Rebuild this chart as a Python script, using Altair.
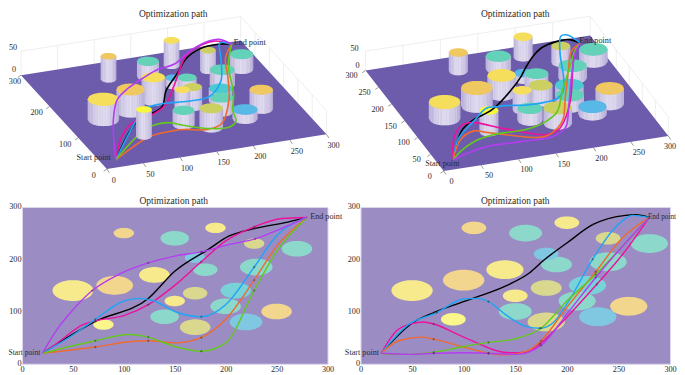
import numpy as np
import pandas as pd
import altair as alt

FONT = "Liberation Serif"
TXT = "#2b2b2b"

# obstacles: centre x, centre y, radius, height, colour kind
kinds = ["yellow","orange","yellow","orange","teal","yellow","olive","teal","teal","teal",
         "blue","olive","yellow","aqua","teal","lemon","olive","teal","blue","orange"]
heights = [42,46,49,48,32,53,43,31,31,30,17,42,51,26,30,56,40,29,19,40]
L_cx = [50,91,130,100,150,190,228,270,230,180,170,170,150,210,140,80,170,200,220,250]
L_cy = [140,150,170,250,240,260,230,220,185,180,203,135,120,140,90,75,70,110,80,100]
L_r  = [20,18,15,10,14,10,10,15,16,12,10,12,10,15,14,10,15,15,16,15]
R_cx = [50,100,140,110,160,200,240,280,240,190,180,180,150,220,150,90,180,210,230,260]
R_cy = [140,160,180,260,250,270,240,230,195,190,210,145,130,150,100,85,80,120,90,110]
R_r  = [20,20,18,12,16,12,12,18,18,15,12,15,12,18,16,12,18,18,18,18]
flat_col = {"yellow":"#f6ea8c","orange":"#f2d68e","teal":"#8cd8ca","olive":"#d9d88e",
            "blue":"#80c8e2","aqua":"#78d2d8","lemon":"#fbf68c"}
top_col  = {"yellow":"#f5de5c","orange":"#f0c862","teal":"#64d2b8","olive":"#ccd062",
            "blue":"#58b8e6","aqua":"#4ccad2","lemon":"#f8f83c"}

path_col = {"black":"#000000","magenta":"#ee119c","blue":"#1ea5f5",
            "orange":"#ee6a30","green":"#62c81e","purple":"#b43df0"}

# plan-view paths, left panel
L_paths = {
 "black":  ([20,72,124,150,183,203,229,261,280],[20,81,125,177,219,244,259,271,280]),
 "magenta":([20,35,60,72,100,124,150,176,200,228,255,280],[20,40,75,82,92,113,150,195,235,262,278,280]),
 "blue":   ([20,50,72,100,115,130,150,176,200,228,250,280],[20,55,85,120,125,120,100,90,113,185,245,280]),
 "orange": ([20,72,110,124,150,176,200,228,250,280],[20,32,43,44,40,50,85,160,225,280]),
 "green":  ([20,72,105,124,150,176,200,228,250,280],[20,44,56,51,33,24,40,140,215,280]),
 "purple": ([20,36,49,69,95,124,150,176,203,229,255,280],[20,70,101,140,171,193,206,214,228,239,259,280]),
}
# plan-view paths, right panel
R_paths = {
 "black":  ([20,51,71,109,142,164,177,200,225,257,267,280],[20,79,98,125,150,174,197,231,266,284,285,280]),
 "magenta":([20,35,50,61,71,100,145,161,174,200,229,254,280],[20,63,77,80,76,51,21,22,38,89,152,209,280]),
 "blue":   ([20,45,74,100,113,124,142,161,174,187,200,225,248,264,280],[20,73,98,124,125,119,92,71,68,79,114,200,263,284,280]),
 "orange": ([20,37,58,71,100,124,142,161,175,200,228,254,280],[20,44,51,47,32,20,17,24,44,108,176,241,280]),
 "green":  ([20,29,48,71,100,124,148,175,200,228,254,280],[20,18,18,22,33,41,47,68,120,171,225,280]),
 "purple": ([20,48,71,100,124,151,175,200,228,254,280],[20,18,20,21,20,18,35,95,165,225,280]),
}
# 3-D paths, left panel: x, y, z
L3 = {
 "black":  (L_paths["black"][0], L_paths["black"][1], [1,28,18,12,15,21,27,21,10]),
 "magenta":(L_paths["magenta"][0], L_paths["magenta"][1], [1,30,28,30,31,30,38,39,35,30,24,10]),
 "blue":   ([20,50,72,100,115,130,150,176,200,228,250,280],[20,55,85,120,125,120,100,90,113,185,245,280],[1,21,25,24,24,28,40,51,62,56,43,10]),
 "orange": ([20,72,110,124,150,176,200,228,250,280],[20,32,43,44,40,50,85,160,225,280],[1,30,26,24,20,19,40,31,25,10]),
 "green":  ([20,72,105,124,150,176,190,205,228,250,280],[20,44,56,51,33,24,35,85,140,215,280],[1,39,35,28,27,29,31,19,9,17,10]),
 "purple": (L_paths["purple"][0], L_paths["purple"][1], [1,28,36,37,33,33,37,37,49,54,40,10]),
}
# 3-D paths, right panel: x, y, z
R3 = {
 "black":  (R_paths["black"][0], R_paths["black"][1], [5,15,18,15,29,36,32,30,18,12,10,3]),
 "magenta":([20,35,50,61,71,100,145,161,174,200,229,254,280],[20,63,77,80,76,51,21,22,38,89,162,225,280],[5,13,28,30,30,28,26,32,35,35,50,39,3]),
 "blue":   (R_paths["blue"][0], R_paths["blue"][1], [5,5,17,20,19,23,39,55,60,65,65,52,37,21,3]),
 "orange": (R_paths["orange"][0], R_paths["orange"][1], [5,24,34,31,28,26,26,35,36,30,33,19,3]),
 "green":  (R_paths["green"][0], R_paths["green"][1], [5,22,38,42,34,28,30,33,33,42,34,3]),
 "purple": (R_paths["purple"][0], R_paths["purple"][1], [5,19,22,20,20,22,24,20,24,27,3]),
}
waypoints = [72,124,176,228]
xticks = [0,50,100,150,200,250,300]
L_yticks3 = [0,100,200,300]
R_yticks3 = [0,50,100,150,200,250,300]

# view set-ups (px = image pixels): origin, x axis, y axis, z scale, path z scale
VL = dict(x0=106.0, y0=168.0, ax=0.7333, ay=-0.1157, bx=-0.2867, by=-0.3133, kz=0.48, pz=0.48)
VR = dict(x0=443.33, y0=170.0, ax=0.75, ay=-0.1167, bx=-0.261, by=-0.3357, kz=0.387, pz=0.48)

def proj(v, x, y, z=0.0, zk=None):
    k = v["kz"] if zk is None else zk
    return (v["x0"] + v["ax"]*x + v["bx"]*y, v["y0"] + v["ay"]*x + v["by"]*y - k*z)

def hexmix(a, b, t):
    ca = [int(a[i:i+2],16) for i in (1,3,5)]
    cb = [int(b[i:i+2],16) for i in (1,3,5)]
    return "#%02x%02x%02x" % tuple(int(round(p+(q-p)*t)) for p,q in zip(ca,cb))

def ellipse_bounds(cx, cy, r, proj2, n=28):
    t = np.linspace(0, 2*np.pi, 361)
    pts = np.array([proj2(cx+r*np.cos(a), cy+r*np.sin(a)) for a in t])
    xs, ys = pts[:,0], pts[:,1]
    xg = np.linspace(xs.min(), xs.max(), n)
    i0 = xs.argmin(); order = np.roll(np.arange(360), -i0)
    i1 = list(order).index(xs[:360].argmax())
    a1, a2 = order[:i1+1], order[i1:]
    def arc(idx):
        s = np.argsort(xs[idx])
        return np.interp(xg, xs[idx][s], ys[idx][s])
    y1, y2 = arc(a1), arc(np.append(a2, order[0]))
    return xg, np.minimum(y1,y2), np.maximum(y1,y2)

def polygon_rows(verts, key, color):
    v = np.array(verts)
    l, r = v[:,0].argmin(), v[:,0].argmax()
    xg = np.sort(v[:,0])
    n = len(v)
    i = l; a = [l]
    while i != r:
        i = (i+1) % n; a.append(i)
    i = l; b = [l]
    while i != r:
        i = (i-1) % n; b.append(i)
    ya = np.interp(xg, v[a,0], v[a,1]); yb = np.interp(xg, v[b,0], v[b,1])
    return [dict(x=float(px), y=float(p), y2=float(q), key=key, c=color) for px,p,q in zip(xg,ya,yb)]

shade_cycle = [0.0,0.55,0.15,0.8,0.3,0.0,0.65,0.2,0.9,0.1,0.45,0.7]

def cylinder_rows(v, i, cx, cy, r, h, kind):
    rows = []
    xg, up0, lo0 = ellipse_bounds(cx, cy, r, lambda a,b: proj(v,a,b,0))
    xt, upt, lot = ellipse_bounds(cx, cy, r, lambda a,b: proj(v,a,b,h))
    w = xg[-1]-xg[0]
    nstr = max(8, int(w/1.1))
    sx = np.linspace(xg[0], xg[-1], nstr+1)
    for s in range(nstr):
        a, b = sx[s], min(sx[s+1]+0.6, xg[-1])
        u = (0.5*(a+b)-xg[0])/w
        edge = abs(2*u-1)**2
        c = hexmix("#e9e5f4", "#9a8ec6", min(1.0, 0.16*shade_cycle[s % 12]+0.5*edge+0.08))
        for px in (a, b):
            rows.append(dict(x=float(px),
                             y=float(np.interp(px, xt, lot))-0.5,
                             y2=float(np.interp(px, xg, lo0)),
                             key=f"c{i:02d}b{s:03d}", c=c))
    for px,p,q in zip(xt, upt, lot):
        rows.append(dict(x=float(px), y=float(p), y2=float(q), key=f"c{i:02d}z", c=top_col[kind]))
    return rows

def axis_none(domain):
    return alt.Scale(domain=domain, nice=False, zero=False)

def text_layer(df, xs, ys, align, size=8.2):
    return alt.Chart(df).mark_text(font=FONT, fontSize=size, color=TXT, align=align, baseline="middle").encode(
        x=alt.X("x:Q", scale=xs, axis=None), y=alt.Y("y:Q", scale=ys, axis=None), text="t:N")

def panel3d(v, cx, cy, r, paths3, yticks, xdom, front, title_x, labels, zlab, xoff, yoff, force=False):
    xs = axis_none(xdom); ys = axis_none([180, 10])
    W = xdom[1]-xdom[0]
    layers = []
    rules = []
    def seg(a, b, col):
        p, q = proj(v,*a), proj(v,*b)
        rules.append(dict(x=p[0], y=p[1], x2=q[0], y2=q[1], c=col))
    G = "#e6e6e6"
    seg((0,300,0),(0,300,50),G); seg((300,300,0),(300,300,50),G)
    seg((300,0,0),(300,0,50),G)
    seg((0,300,50),(300,300,50),G); seg((300,300,50),(300,0,50),G)
    for t in [50,100,150,200,250]:
        seg((t,300,0),(t,300,50),G); seg((300,t,0),(300,t,50),G)
    rdf = pd.DataFrame(rules)
    layers.append(alt.Chart(rdf).mark_rule(strokeWidth=0.7).encode(
        x=alt.X("x:Q", scale=xs, axis=None), y=alt.Y("y:Q", scale=ys, axis=None),
        x2="x2:Q", y2="y2:Q", color=alt.Color("c:N", scale=None)))
    ticks = []
    for t in xticks:
        p = proj(v,t,0); ticks.append(dict(x=p[0], y=p[1], x2=p[0]+2.4, y2=p[1]+3.6))
    for t in yticks:
        p = proj(v,0,t); ticks.append(dict(x=p[0], y=p[1], x2=p[0]-3.2, y2=p[1]+2.2))
    tk = pd.DataFrame(ticks)
    layers.append(alt.Chart(tk).mark_rule(strokeWidth=0.6, color="#555555").encode(
        x=alt.X("x:Q", scale=xs, axis=None), y=alt.Y("y:Q", scale=ys, axis=None), x2="x2:Q", y2="y2:Q"))
    corners = [proj(v,0,300), proj(v,300,300), proj(v,300,0), proj(v,0,0)]
    rows = polygon_rows(corners, "a_plane", "#6d5cab")
    def depth(i):
        return proj(v, cx[i], cy[i])[1]
    idx = sorted(range(len(cx)), key=depth)
    for i in idx:
        if i not in front:
            rows += cylinder_rows(v, i, cx[i], cy[i], r[i], heights[i], kinds[i])
    def area_layer(rs):
        return alt.Chart(pd.DataFrame(rs)).mark_area(orient="vertical", strokeWidth=0).encode(
            x=alt.X("x:Q", scale=xs, axis=None), y=alt.Y("y:Q", scale=ys, axis=None), y2="y2:Q",
            color=alt.Color("c:N", scale=None), detail="key:N")
    layers.append(area_layer(rows))
    prs = []
    for name,(px,py,pz) in paths3.items():
        for j,(a,b,c) in enumerate(zip(px,py,pz)):
            s = proj(v,a,b,c,v["pz"])
            prs.append(dict(x=s[0], y=s[1], name=name, i=j, c=path_col[name]))
    layers.append(alt.Chart(pd.DataFrame(prs)).mark_line(interpolate="catmull-rom", strokeWidth=1.6).encode(
        x=alt.X("x:Q", scale=xs, axis=None), y=alt.Y("y:Q", scale=ys, axis=None),
        color=alt.Color("c:N", scale=None), detail="name:N", order="i:Q"))
    if front:
        rs = []
        for i in front:
            rs += cylinder_rows(v, i, cx[i], cy[i], r[i], heights[i], kinds[i])
        layers.append(area_layer(rs))
    lab = []
    for t in xticks:
        p = proj(v,t,0); lab.append(dict(x=min(p[0]+xoff[0], 670), y=p[1]+xoff[1], t=str(t)))
    for t in yticks:
        p = proj(v,0,t); lab.append(dict(x=max(p[0]+yoff[0], 14), y=p[1]+yoff[1], t=str(t)))
    for z,(dx,dy) in zlab.items():
        p = proj(v,0,300,z); lab.append(dict(x=p[0]+dx, y=p[1]+dy, t=str(z)))
    layers.append(text_layer(pd.DataFrame(lab), xs, ys, "center"))
    layers.append(text_layer(pd.DataFrame([labels[0]]), xs, ys, labels[0]["a"]))
    layers.append(text_layer(pd.DataFrame([labels[1]]), xs, ys, "left"))
    layers.append(text_layer(pd.DataFrame([dict(x=title_x, y=12.5, t="Optimization path")]), xs, ys, "center", 9.5))
    if force:
        layers.append(alt.Chart(pd.DataFrame([dict(x=8,x2=676,y=8,y2=367)])).mark_rect(opacity=0).encode(
            x=alt.X("x:Q", scale=xs, axis=None), x2="x2:Q", y=alt.Y("y:Q", scale=ys, axis=None), y2="y2:Q"))
    return alt.layer(*layers).properties(width=W, height=170, view=alt.ViewConfig(stroke=None, fill=None))

def panel2d(cx, cy, r, paths, W, start_dx, end_dx, start_size, end_size):
    xs = alt.Scale(domain=[0,300], nice=False, zero=True)
    ys = alt.Scale(domain=[0,300], nice=False, zero=True)
    xa = alt.Axis(values=xticks, grid=False, tickSize=0, domain=False, labelFont=FONT, labelFontSize=8.2,
                  labelColor=TXT, labelPadding=2, title=None, labelFlush=False, labelOverlap=False, format="d")
    ya = alt.Axis(values=[0,50,100,150,200,250,300], grid=False, tickSize=0, domain=False, labelFont=FONT,
                  labelFontSize=8.2, labelColor=TXT, labelPadding=1, title=None, labelFlush=False,
                  labelOverlap=False, format="d")
    rows = []
    for i,(a,b,c) in enumerate(zip(cx,cy,r)):
        t = np.linspace(0, np.pi, 33)
        for tt in t:
            h = c*np.sin(tt)
            rows.append(dict(x=a-c*np.cos(tt), y=b-h, y2=b+h, key=f"e{i:02d}", c=flat_col[kinds[i]]))
    base = alt.Chart(pd.DataFrame(rows)).mark_area(orient="vertical", strokeWidth=0).encode(
        x=alt.X("x:Q", scale=xs, axis=xa), y=alt.Y("y:Q", scale=ys, axis=ya), y2="y2:Q",
        color=alt.Color("c:N", scale=None), detail="key:N")
    prs = []; mks = []
    for name,(px,py) in paths.items():
        for j,(a,b) in enumerate(zip(px,py)):
            prs.append(dict(x=a, y=b, name=name, i=j, c=path_col[name]))
            if any(abs(a-w) <= 3 for w in waypoints):
                mks.append(dict(x=a, y=b))
    lines = alt.Chart(pd.DataFrame(prs)).mark_line(interpolate="monotone", strokeWidth=1.4).encode(
        x=alt.X("x:Q", scale=xs), y=alt.Y("y:Q", scale=ys),
        color=alt.Color("c:N", scale=None), detail="name:N", order="i:Q")
    marks = alt.Chart(pd.DataFrame(mks)).mark_point(shape="cross", size=5, color="#333333", filled=True, opacity=0.6).encode(
        x=alt.X("x:Q", scale=xs), y=alt.Y("y:Q", scale=ys))
    st = alt.Chart(pd.DataFrame([dict(x=20,y=20,t="Start point")])).mark_text(
        font=FONT, fontSize=start_size, color=TXT, align="right", baseline="middle", dx=start_dx).encode(
        x=alt.X("x:Q", scale=xs), y=alt.Y("y:Q", scale=ys), text="t:N")
    en = alt.Chart(pd.DataFrame([dict(x=280,y=280,t="End point")])).mark_text(
        font=FONT, fontSize=end_size, color=TXT, align="left", baseline="middle", dx=end_dx).encode(
        x=alt.X("x:Q", scale=xs), y=alt.Y("y:Q", scale=ys), text="t:N")
    ttl = alt.Chart(pd.DataFrame([dict(t="Optimization path")])).mark_text(
        font=FONT, fontSize=9.5, color=TXT, align="center", baseline="middle").encode(
        x=alt.value(152 if W < 308 else 155), y=alt.value(-6), text="t:N")
    return alt.layer(base, lines, marks, st, en, ttl).properties(
        width=W, height=157, view=alt.ViewConfig(fill="#9c8cc4", stroke="#dcd7ec", strokeWidth=1))

tl = panel3d(VL, L_cx, L_cy, L_r, L3, L_yticks3, [21,327], [15], 172.5,
             [dict(x=110, y=157, t="Start point", a="right"), dict(x=233, y=41.5, t="End point")],
             {0:(-7,-5), 50:(-8,-3)}, (7,11.5), (-13,7), force=True)
tr = panel3d(VR, R_cx, R_cy, R_r, R3, R_yticks3, [360,670], [], 515,
             [dict(x=442, y=163, t="Start point", a="center"), dict(x=579, y=40, t="End point")],
             {0:(-8,-4), 50:(-11,-2)}, (8,11), (-14,6))
bl = panel2d(L_cx, L_cy, L_r, L_paths, 306, -2, 3, 7.6, 8.2)
br = panel2d(R_cx, R_cy, R_r, R_paths, 310, -2, -1.5, 8.2, 7.2)

chart = alt.concat(tl, tr, bl, br, columns=2, spacing={"row":26,"column":33}, bounds="flush").properties(
    padding=0, background="white")
chart.save("out.html", embed_options={"renderer": "svg", "actions": False})
